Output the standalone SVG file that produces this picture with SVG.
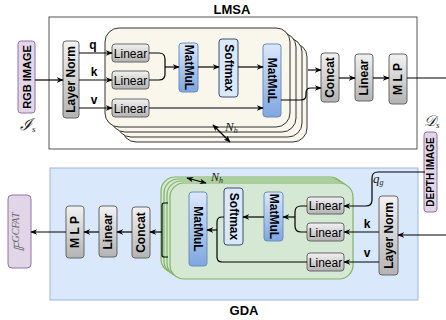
<svg xmlns="http://www.w3.org/2000/svg" width="446" height="320" viewBox="0 0 446 320">
<defs>
<linearGradient id="gGray" x1="0" y1="0" x2="0" y2="1"><stop offset="0" stop-color="#f2f2f2"/><stop offset="1" stop-color="#b3b3b3"/></linearGradient>
<linearGradient id="gBlue" x1="0" y1="0" x2="0" y2="1"><stop offset="0" stop-color="#dae8fc"/><stop offset="1" stop-color="#7ea6e0"/></linearGradient>
<marker id="arr" viewBox="0 0 10 10" refX="9" refY="5" markerWidth="7" markerHeight="7" markerUnits="userSpaceOnUse" orient="auto-start-reverse"><path d="M0,1 L10,5 L0,9 L3,5 z" fill="#000"/></marker>
<style>
.t{font-family:"Liberation Sans",Arial,sans-serif;fill:#000}
.b{font-weight:bold;font-size:12px}
.lin{font-size:12px}
.title{font-weight:bold;font-size:13px}
.math{font-family:"Liberation Serif","DejaVu Serif",serif;font-style:italic;fill:#222}
.gray{fill:url(#gGray);stroke:#666;stroke-width:1}
.blue{fill:url(#gBlue);stroke:#6c8ebf;stroke-width:1}
.soft{fill:#dae8fc;stroke:#3d4f6e;stroke-width:1}
.purple{fill:#e1d5e7;stroke:#9673a6;stroke-width:1}
.cream{fill:#f9f7ec;stroke:#333;stroke-width:1}
.green{fill:#d5e8d4;stroke:#82b366;stroke-width:1.2}
.c{fill:none;stroke:#000;stroke-width:1.2}
.a{marker-end:url(#arr)}
</style>
</defs>
<rect width="446" height="320" fill="#fff"/>

<!-- LMSA frame -->
<g id="lmsa">
<rect x="49" y="17" width="368" height="132" fill="#fff" stroke="#555" stroke-width="1"/>
<text class="t title" x="232" y="14" text-anchor="middle">LMSA</text>
</g>
<!-- GDA frame -->
<g id="gda">
<rect x="50" y="168" width="368" height="132" fill="#dae8fc" stroke="#9fb6d8" stroke-width="1"/>
<text class="t title" x="244" y="315" text-anchor="middle">GDA</text>
</g>

<!-- top head stack -->
<g id="lmsa-heads">
<rect class="cream" x="122" y="43" width="185" height="99" rx="14"/>
<rect class="cream" x="117" y="38" width="185" height="99" rx="14"/>
<rect class="cream" x="111" y="33" width="185" height="99" rx="14"/>
<rect class="cream" x="105" y="28" width="185" height="99" rx="14"/>
</g>
<!-- bottom head stack -->
<g id="gda-heads">
<rect class="green" x="161" y="177" width="183" height="96" rx="14"/>
<rect class="green" x="164" y="179" width="183" height="96" rx="14"/>
<rect class="green" x="167" y="181" width="183" height="96" rx="14"/>
<rect class="green" x="170" y="183" width="183" height="96" rx="14"/>
</g>

<!-- top nodes -->
<g id="rgb-image">
<rect class="purple" x="18" y="41" width="17" height="72" rx="3"/>
<text class="t" font-weight="bold" font-size="11" transform="translate(27,77) rotate(-90)" text-anchor="middle" dominant-baseline="central">RGB IMAGE</text>
<text class="math" x="20" y="130" font-size="16">ℐ<tspan font-size="9" dy="2">s</tspan></text>
</g>
<g id="layernorm-top">
<rect class="gray" x="63" y="41" width="16" height="77" rx="3"/>
<text class="t b" transform="translate(71,79.5) rotate(-90)" text-anchor="middle" dominant-baseline="central">Layer Norm</text>
</g>
<g id="linear-q-top"><rect class="gray" x="112" y="44" width="37" height="18" rx="3"/><text class="t lin" x="130.5" y="57.5" text-anchor="middle">Linear</text></g>
<g id="linear-k-top"><rect class="gray" x="112" y="71" width="37" height="18" rx="3"/><text class="t lin" x="130.5" y="84.5" text-anchor="middle">Linear</text></g>
<g id="linear-v-top"><rect class="gray" x="112" y="99" width="37" height="18" rx="3"/><text class="t lin" x="130.5" y="112.5" text-anchor="middle">Linear</text></g>
<g id="matmul1-top"><rect class="blue" x="179" y="43" width="19" height="49" rx="3"/><text class="t b" transform="translate(188.5,67.5) rotate(90)" text-anchor="middle" dominant-baseline="central">MatMuL</text></g>
<g id="softmax-top"><rect class="soft" x="219" y="39" width="19" height="58" rx="3"/><text class="t b" transform="translate(228.5,68) rotate(90)" text-anchor="middle" dominant-baseline="central">Softmax</text></g>
<g id="matmul2-top"><rect class="blue" x="263" y="44" width="18" height="73" rx="3"/><text class="t b" transform="translate(272,80.5) rotate(90)" text-anchor="middle" dominant-baseline="central">MatMuL</text></g>
<g id="concat-top"><rect class="gray" x="321" y="53" width="18" height="49" rx="3"/><text class="t b" transform="translate(330,77.5) rotate(-90)" text-anchor="middle" dominant-baseline="central">Concat</text></g>
<g id="linear-out-top"><rect class="gray" x="355" y="54" width="18" height="47" rx="3"/><text class="t b" transform="translate(364,77.5) rotate(-90)" text-anchor="middle" dominant-baseline="central">Linear</text></g>
<g id="mlp-top"><rect class="gray" x="389" y="54" width="18" height="50" rx="3"/><text class="t b" transform="translate(398,79) rotate(-90)" text-anchor="middle" dominant-baseline="central">M L P</text></g>
<g id="depth-image">
<rect class="purple" x="424" y="132" width="13" height="80" rx="3"/>
<text class="t" font-weight="bold" font-size="10" transform="translate(430.5,172) rotate(-90)" text-anchor="middle" dominant-baseline="central">DEPTH IMAGE</text>
<text class="math" x="424" y="126" font-size="15">𝒟<tspan font-size="9" dy="2">s</tspan></text>
</g>

<!-- bottom nodes -->
<g id="layernorm-bottom"><rect class="gray" x="379" y="196" width="19" height="79" rx="3"/><text class="t b" transform="translate(388.5,235.5) rotate(-90)" text-anchor="middle" dominant-baseline="central">Layer Norm</text></g>
<g id="linear-q-bottom"><rect class="gray" x="307" y="197" width="37" height="17" rx="3"/><text class="t lin" x="325.5" y="210" text-anchor="middle">Linear</text></g>
<g id="linear-k-bottom"><rect class="gray" x="307" y="223" width="37" height="18" rx="3"/><text class="t lin" x="325.5" y="236.5" text-anchor="middle">Linear</text></g>
<g id="linear-v-bottom"><rect class="gray" x="307" y="253" width="37" height="18" rx="3"/><text class="t lin" x="325.5" y="266.5" text-anchor="middle">Linear</text></g>
<g id="matmul1-bottom"><rect class="blue" x="264" y="192" width="19" height="49" rx="3"/><text class="t b" transform="translate(273.5,216.5) rotate(90)" text-anchor="middle" dominant-baseline="central">MatMuL</text></g>
<g id="softmax-bottom"><rect class="soft" x="224" y="188" width="19" height="57" rx="3"/><text class="t b" transform="translate(233.5,216.5) rotate(90)" text-anchor="middle" dominant-baseline="central">Softmax</text></g>
<g id="matmul2-bottom"><rect class="blue" x="189" y="192" width="18" height="74" rx="3"/><text class="t b" transform="translate(198,229) rotate(90)" text-anchor="middle" dominant-baseline="central">MatMuL</text></g>
<g id="concat-bottom"><rect class="gray" x="132" y="207" width="18" height="51" rx="3"/><text class="t b" transform="translate(141,232.5) rotate(-90)" text-anchor="middle" dominant-baseline="central">Concat</text></g>
<g id="linear-out-bottom"><rect class="gray" x="99" y="206" width="18" height="51" rx="3"/><text class="t b" transform="translate(108,231.5) rotate(-90)" text-anchor="middle" dominant-baseline="central">Linear</text></g>
<g id="mlp-bottom"><rect class="gray" x="66" y="206" width="18" height="52" rx="3"/><text class="t b" transform="translate(75,232) rotate(-90)" text-anchor="middle" dominant-baseline="central">M L P</text></g>
<g id="f-gcfat">
<rect class="purple" x="8" y="195" width="23" height="73" rx="4"/>
<text transform="translate(24,232) rotate(-90)" text-anchor="middle" font-family="Liberation Serif,DejaVu Serif,serif" font-style="italic" font-size="14" fill="#666">𝔽<tspan font-size="10" dy="-5">GCFAT</tspan></text>
</g>

<!-- connectors -->
<g id="connectors">
<path class="c a" d="M35,80 H63"/>
<path class="c a" d="M79,53 H112"/>
<path class="c a" d="M79,80 H112"/>
<path class="c a" d="M79,108 H112"/>
<path class="c" d="M149,53 H159 Q165,53 165,59 V67"/>
<path class="c" d="M149,80 H159 Q165,80 165,74 V67"/>
<path class="c a" d="M165,67 H179"/>
<path class="c a" d="M198,67 H219"/>
<path class="c a" d="M238,67 H263"/>
<path class="c a" d="M149,108 H263"/>
<path class="c a" d="M281,100 H301 Q306,100 306,95 V93 Q306,88 311,88 H321"/>
<path class="c a" d="M308,70 H321"/>
<path class="c a" d="M339,78 H355"/>
<path class="c a" d="M373,78 H389"/>
<path class="c" d="M407,78 H446"/>
<path class="c a" d="M213,125 L230,142" style="marker-start:url(#arr)"/>

<path class="c a" d="M446,235 H398"/>
<path class="c a" d="M425,172 H378 Q372,172 372,178 V200 Q372,206 366,206 H344"/>
<path class="c a" d="M379,232 H344"/>
<path class="c a" d="M379,262 H344"/>
<path class="c" d="M307,206 H301 Q295,206 295,212 V217"/>
<path class="c" d="M307,232 H301 Q295,232 295,226 V217"/>
<path class="c a" d="M295,217 H283"/>
<path class="c a" d="M264,217 H243"/>
<path class="c" d="M224,217 H222 Q217,217 217,222 V230"/>
<path class="c" d="M307,262 H222 Q217,262 217,257 V230"/>
<path class="c a" d="M217,230 H207"/>
<path class="c" d="M168,203 H164 Q162,203 162,205 V255 Q162,257 164,257 H168"/>
<path class="c a" d="M162,232 H150"/>
<path class="c a" d="M132,232 H117"/>
<path class="c a" d="M99,232 H84"/>
<path class="c a" d="M66,232 H31"/>
<path class="c a" d="M187,178 L206,183" style="marker-start:url(#arr)"/>
</g>

<!-- labels -->
<g id="labels">
<text class="t b" x="93" y="49" text-anchor="middle">q</text>
<text class="t b" x="94" y="76" text-anchor="middle">k</text>
<text class="t b" x="94" y="104" text-anchor="middle">v</text>
<text class="t b" x="367" y="228" text-anchor="middle">k</text>
<text class="t b" x="367" y="257" text-anchor="middle">v</text>
<text class="math" x="373" y="183" font-size="13">q<tspan font-size="8" dy="2">g</tspan></text>
<text class="math" x="225" y="131" font-size="13">N<tspan font-size="8" dy="2">h</tspan></text>
<text class="math" x="211" y="181" font-size="12">N<tspan font-size="8" dy="2">h</tspan></text>
</g>
</svg>
